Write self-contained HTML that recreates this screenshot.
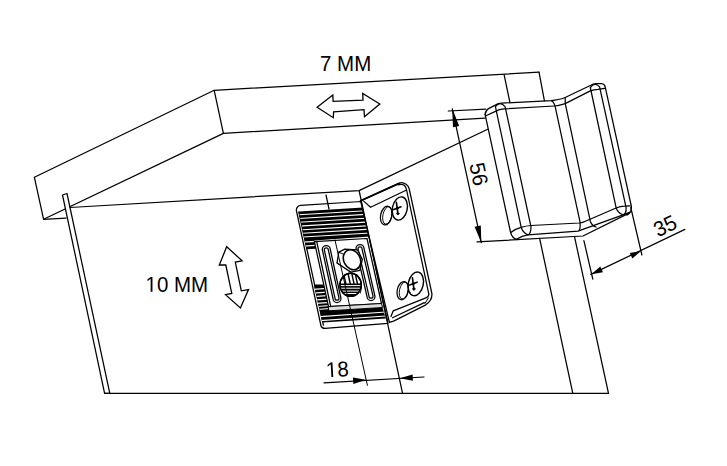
<!DOCTYPE html>
<html><head><meta charset="utf-8">
<style>
html,body{margin:0;padding:0;background:#fff;width:727px;height:466px;overflow:hidden}
svg{position:absolute;left:0;top:0;display:block}
text{font-family:"Liberation Sans",sans-serif;fill:#000}
</style></head><body>
<svg width="727" height="466" viewBox="0 0 727 466">
<defs><clipPath id="hc"><ellipse cx="350.6" cy="284.8" rx="10.7" ry="11.5"/></clipPath><clipPath id="ribclip"><path d="M298.9 211.5 L363.2 207.6 L369.8 236.6 L314.4 240.4 L315.9 248.8 L306.6 249.3 Z M313.8 284.4 L323.5 284.4 L328.5 306.6 L329.3 310.8 L382.5 307.5 L385.9 318.6 L322.4 322.4 Z"/></clipPath></defs>
<g fill="none" stroke="#000" stroke-width="1.25" stroke-linejoin="round" stroke-linecap="round">
<!-- top slab -->
<path d="M34.4 177.3 L214.2 90.3 L539 72.2"/>
<path d="M34.4 177.3 L43.6 219.3 L223.4 133.4 L485 118.1"/>
<path d="M214.2 90.3 L223.4 133.4"/>
<path d="M43.6 219.3 L66 218.2"/>
<!-- left strip -->
<path fill="#fff" d="M62.5 195 L67 193.5 L109.8 393.3 L104.6 393.3 Z"/>
<!-- back line -->
<path d="M70 207.5 L359.1 190.6 L487.7 129.3"/>
<!-- bottom -->
<path d="M104.6 393.3 L608.5 393.4"/>
<!-- right panel -->
<path d="M504.2 75.2 L509.9 102.3"/>
<path d="M539.6 238.3 L572.8 393.4"/>
<path d="M539 72.2 L544.4 100.6"/>
<path d="M574.5 236.7 L608.5 393.4"/>
<!-- bracket -->
<path fill="#fff" d="M296.3 210 Q296.8 205.6 300.8 205.3 L361.3 201.5 L388 323.4 L325 328.4 Q321.6 328.4 320.9 325.5 Z"/>
<path d="M298.8 212 L323.4 325.2"/>
<path d="M326 195 L329 209"/>
<g stroke="none" fill="#000">
<path d="M298.9 211.5 L363.2 207.6 L369.8 236.6 L314.4 240.4 L315.9 248.8 L306.6 249.3 Z"/>
<path d="M313.8 284.4 L323.5 284.4 L328.5 306.6 L329.3 310.8 L382.5 307.5 L385.9 318.6 L322.4 322.4 Z"/>
</g>
<g stroke="#fff" stroke-width="1.15" clip-path="url(#ribclip)">
<path d="M290 215.3 L380 209.9 M290 219 L380 213.6 M290 222.8 L380 217.4 M290 226.6 L380 221.2 M290 230.5 L380 225.1 M290 234 L380 228.6 M290 237.8 L380 232.4 M290 242.9 L380 237.5 M290 246.9 L380 241.5"/>
<path d="M290 291 L390 284 M290 294.8 L390 287.8 M290 298.2 L390 291.2 M290 301.8 L390 294.8 M290 305.2 L390 298.2 M290 308.4 L390 301.4 M290 311.4 L390 304.4 M290 318.7 L390 311.7 M290 322.7 L390 315.7"/>
</g>
<path fill="#fff" d="M314.4 241.6 L367 238.5 L381.5 303.5 L328.5 306.6 Z"/>
<path fill="#ddd" stroke-width="1" d="M328.5 306.6 L381.5 303.5 L382.5 307.5 L329.3 310.8 Z"/>
<path d="M316.7 241.5 L330.7 306.5"/>
<!-- slots -->
<path d="M322.3 249.5 A4 4 0 0 1 330.3 249.5 L341 298.5 A4 4 0 0 1 333 298.5 Z"/>
<path d="M324.3 249.8 A2 2 0 0 1 328.3 249.8 L339 298.2 A2 2 0 0 1 335 298.2 Z"/>
<path d="M356 248.5 A4 4 0 0 1 364 248.5 L375 296.5 A4 4 0 0 1 367 296.5 Z"/>
<path d="M358 248.8 A2 2 0 0 1 362 248.8 L373 296.2 A2 2 0 0 1 369 296.2 Z"/>
<!-- nut -->
<path fill="#fff" stroke-width="1.3" d="M338.8 252.2 L344.8 249.2 L357.5 249.8 L362.3 259.4 L359.9 270.3 L350.8 272.1 L337 263 Z"/>
<path d="M338.8 252.2 L343 254 M337 263 L342 266" stroke-width="1"/>
<ellipse cx="352" cy="259.8" rx="8.2" ry="10.4" transform="rotate(-28 352 259.8)" stroke-width="1.6"/>
<ellipse cx="350.6" cy="284.8" rx="10.7" ry="11.5" fill="#fff" stroke-width="1.4"/>
<g clip-path="url(#hc)" stroke="none">
<path fill="#000" d="M336 283.6 L366 283.6 L366 300 L336 300 Z"/>
</g>
<g clip-path="url(#hc)">
<path stroke="#fff" stroke-width="1" d="M336 285.6 H366 M336 288.2 H366 M336 291.1 H366 M336 293.5 H366"/>
<path stroke="#000" stroke-width="1.4" d="M343.5 273 L345.9 284 M347.9 273 L350.3 284 M351.7 273 L354.1 284 M355.1 273 L357.5 284"/>
</g>
<ellipse cx="350.6" cy="284.8" rx="10.7" ry="11.5" stroke-width="1.5"/>
<path d="M357 274.5 Q363.5 281 360.5 293" stroke-width="0.9"/>
<!-- side plate -->
<path fill="#fff" stroke-width="1.3" d="M360.6 200.8 L399.1 183.4 Q402 181.4 406.1 184.2 Q408.4 185.8 409.2 188.8 L431.9 293.6 Q432.4 300.5 425.8 304.8 L393.6 321.1 L389.4 322.4 Z"/>
<path d="M360.6 200.8 L399.1 183.4" stroke-width="1.8"/>
<path d="M398 184.9 Q402 183.6 404.5 185.5 Q406 187 406.6 190 L428.9 294.3 Q428.8 296.8 425.9 297.8 L393.2 310.8 L391 316.4"/>
<path d="M363.7 201.1 L370.6 207.3 L406.1 190.3"/>
<path d="M424.3 302.6 L392.5 317.8"/>
<path d="M425 303.5 L428.4 297.9" stroke-width="1"/>
<ellipse cx="399.8" cy="208.5" rx="7.4" ry="11.8" transform="rotate(12 399.8 208.5)" stroke-width="1.4"/>
<ellipse cx="386.2" cy="215.6" rx="5.6" ry="9.5" transform="rotate(12 386.2 215.6)"/>
<ellipse cx="387.3" cy="215.4" rx="4.4" ry="8.9" transform="rotate(12 387.3 215.4)" stroke-width="0.9"/>
<ellipse cx="415.8" cy="283.9" rx="7.5" ry="12" transform="rotate(12 415.8 283.9)" stroke-width="1.4"/>
<ellipse cx="402.7" cy="290.7" rx="5.5" ry="9.2" transform="rotate(12 402.7 290.7)"/>
<ellipse cx="403.8" cy="290.5" rx="4.3" ry="8.6" transform="rotate(12 403.8 290.5)" stroke-width="0.9"/>
<path d="M393.7 209.6 L401.0 206.8 M396.4 202.3 L398.0 214.3" stroke-width="1.6"/>
<path fill="#000" stroke="none" d="M395.5 208.3 L397.3 206.3 L399.1 208.3 L397.3 210.3 Z"/>
<circle cx="397.8" cy="213.5" r="1.1" stroke-width="1"/>
<path d="M409.7 285.0 L417.0 282.2 M412.4 277.7 L414.0 289.7" stroke-width="1.6"/>
<path fill="#000" stroke="none" d="M411.5 283.7 L413.3 281.7 L415.1 283.7 L413.3 285.7 Z"/>
<circle cx="413.8" cy="288.9" r="1.1" stroke-width="1"/>
<path d="M359.2 191 L402.4 392.7"/>
<path d="M335 240 L367.4 385.3" stroke-width="1"/>
<!-- clip -->
<path d="M485.1 114.4 L510.6 232.5 Q512 238 517 239.6"/>
<path d="M527.9 234.8 Q522.5 232.5 521.1 226.8 L495.4 106.6 Q499.8 100.8 505.1 106.6 L531 226.8 Q531 234 527.9 234.8"/>
<path d="M485.1 114.4 Q485.4 110.6 488.5 108.6 L498.3 103.6 Q499.5 103.2 501 103.2 L551.3 100.6 Q555 100.2 558 99.5 Q562 98.8 565.2 97.5 L590.8 85.3 Q593 83.6 596 83.5 L601.6 83.5 Q604.6 84 605.2 86.8 L631.4 206.5 Q631.6 213 626.9 215.1"/>
<path d="M485.4 116 L496 111.1 Q499 109.5 503.8 108.9 L554.4 106 Q557.6 105.8 560.6 104.9 L565.2 103.6 L590.3 90.9 Q594 89.6 598 89.4 L604.7 88.4"/>
<path d="M551.3 100.6 Q553.6 101.6 554.9 105.4 L580 221.9 Q580.5 228 579.3 230.3"/>
<path d="M565.2 97.5 L565.2 103.4 L590.3 221.2 Q592 226 596.1 227"/>
<path d="M623.1 214.8 Q618 213 616.1 207.7 L590.3 87.5 Q594.8 81.6 599.6 86.8 L626.1 207.7 Q626.5 213.5 623.1 214.8"/>
<path d="M511.2 232.3 Q515 229 521.1 227.4 Q526 225.8 531 225.5 L579.3 223 Q583 222.5 585.4 221.2 L616.7 207.7 Q620 206.3 624.4 206.2 L630.2 205.8"/>
<path d="M516.8 239.1 Q522 235.5 527.9 234.8 L578 231.1 L623.1 214.8 L630.2 212.2"/>
<path d="M477 241.9 L583 236 L629.6 212.9"/>
<!-- dim 56 -->
<path d="M448.3 111 L485.8 109.2"/>
<path d="M452.3 108.8 L481.3 242.7"/>
<!-- dim 35 -->
<path d="M630.8 207.7 L641.9 255"/>
<path d="M583.9 240.6 L592.8 279.2"/>
<path d="M590.9 274.4 L684.9 229.4"/>
<!-- dim 18 -->
<path d="M324 382.8 L423.9 377"/>
</g>
<g fill="#000" stroke="none">
<!-- arrowheads -->
<path d="M452.2 108.5 L453.0 127.2 L459.2 125.9 Z"/>
<path d="M481.3 242.7 L480.8 225.4 L474.6 226.8 Z"/>
<path d="M591.3 274.3 L603.0 272.2 L600.3 266.5 Z"/>
<path d="M641.0 251.1 L629.8 253.0 L632.3 258.5 Z"/>
<path d="M366.1 379.8 L352.9 377.6 L353.4 383.9 Z"/>
<path d="M399.8 378.3 L412.9 380.7 L412.6 374.5 Z"/>
</g>
<!-- double arrows -->
<g fill="#fff" stroke="#000" stroke-width="1.3" stroke-linejoin="miter">
<path d="M317.1 107.3 L332.8 95.1 L333.1 101.4 L363 100.1 L362.7 93.4 L379.8 104 L364.5 116.7 L364 109.6 L333.6 111.8 L333.3 117.7 Z"/>
<path d="M226.7 246.7 L242.1 260.8 L235.3 262.1 L241.3 290.8 L248.5 289.6 L240.4 308 L225.5 294.7 L231.8 293.4 L225.8 265 L219.3 265 Z"/>
</g>
<text transform="translate(320 71) scale(1 1.045)" font-size="20.5">7 MM</text>
<path transform="translate(145.5 291.7) scale(0.01001 -0.01046)" fill="#000" d="M515 0V1237L197 1010V1180L530 1409H696V0Z"/>
<text transform="translate(156.9 291.7) scale(1 1.045)" font-size="20.5">0 MM</text>
<g transform="translate(326.3 377.4) rotate(-3.3) scale(1 1.045)"><path transform="scale(0.01001 -0.01001)" fill="#000" d="M515 0V1237L197 1010V1180L530 1409H696V0Z"/><text x="11.4" y="0" font-size="20.5">8</text></g>
<text transform="translate(469.2 164.6) rotate(77.8) scale(1 1.045)" font-size="20.5">56</text>
<text transform="translate(658 237.5) rotate(-25.6) scale(1 1.045)" font-size="20.5">35</text>
</svg>
</body></html>
